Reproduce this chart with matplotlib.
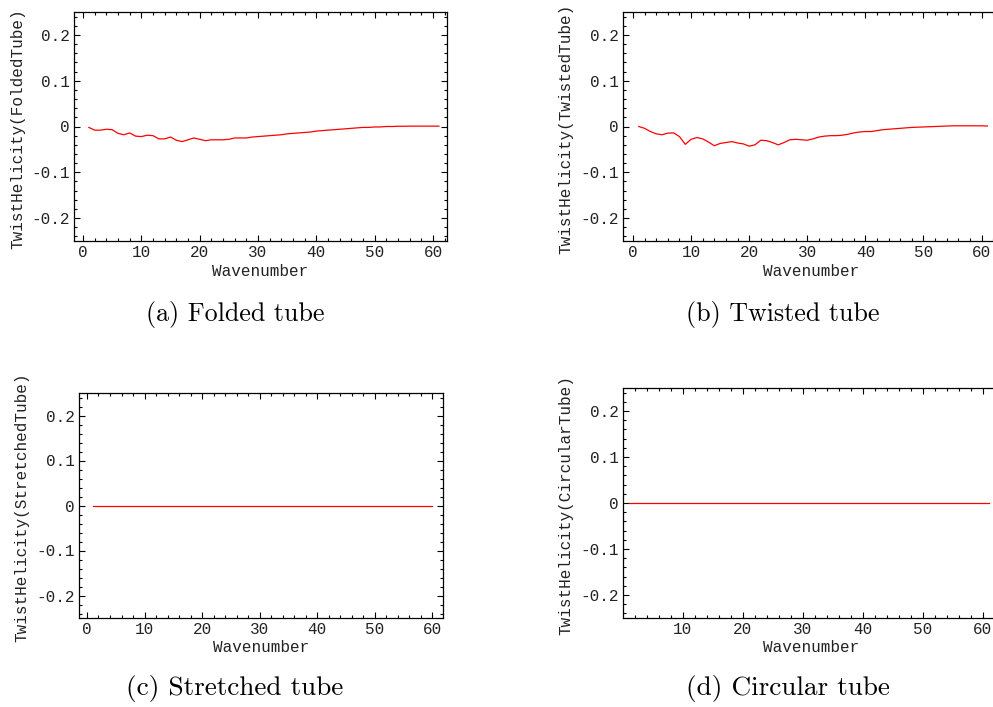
import numpy as np
import matplotlib
matplotlib.use("Agg")
import matplotlib.pyplot as plt
from matplotlib.ticker import MultipleLocator, FixedLocator

wavenumber = list(range(1, 62))
wavenumber_stretched = list(range(1, 61))

folded = [-0.002, -0.008, -0.008, -0.006, -0.007, -0.015, -0.018, -0.014, -0.021, -0.022,
          -0.019, -0.020, -0.027, -0.027, -0.023, -0.030, -0.033, -0.029, -0.025, -0.028,
          -0.031, -0.029, -0.029, -0.029, -0.028, -0.025, -0.025, -0.025, -0.023, -0.022,
          -0.021, -0.020, -0.019, -0.018, -0.016, -0.015, -0.014, -0.013, -0.012, -0.010,
          -0.009, -0.008, -0.007, -0.006, -0.005, -0.004, -0.003, -0.002, -0.002, -0.001,
          -0.001, 0.000, 0.000, 0.0005, 0.0005, 0.0008, 0.0008, 0.0008, 0.0008, 0.0008, 0.0008]

twisted = [0.000, -0.004, -0.011, -0.016, -0.018, -0.0145, -0.014, -0.022, -0.039, -0.028,
           -0.024, -0.027, -0.034, -0.042, -0.037, -0.035, -0.033, -0.036, -0.038, -0.043,
           -0.040, -0.030, -0.031, -0.035, -0.040, -0.035, -0.029, -0.028, -0.029, -0.030,
           -0.027, -0.023, -0.021, -0.020, -0.020, -0.019, -0.017, -0.014, -0.012, -0.011,
           -0.011, -0.009, -0.007, -0.006, -0.005, -0.004, -0.003, -0.002, -0.0015, -0.001,
           -0.0005, 0.000, 0.0005, 0.001, 0.0015, 0.0015, 0.0015, 0.0015, 0.0015, 0.0015, 0.001]

stretched = [0.0] * 60
circular = [0.0] * 61

xs = [wavenumber, wavenumber, wavenumber_stretched, wavenumber]
series = [folded, twisted, stretched, circular]
ylabels = ["TwistHelicity(FoldedTube)", "TwistHelicity(TwistedTube)",
           "TwistHelicity(StretchedTube)", "TwistHelicity(CircularTube)"]
captions = ["(a) Folded tube", "(b) Twisted tube", "(c) Stretched tube", "(d) Circular tube"]
yticks = [-0.2, -0.1, 0.0, 0.1, 0.2]
yticklabels = ["-0.2", "-0.1", "0", "0.1", "0.2"]

W, H = 993, 707
fig = plt.figure(figsize=(W / 100, H / 100), dpi=100)

# (left, right, top, bottom) in pixels, xlim
boxes = [
    (74, 447, 12, 241, (-1.55, 62.4)),
    (623, 999, 12, 241, (-1.72, 63.0)),
    (79, 443, 393, 618, (-1.39, 61.9)),
    (623, 999, 388, 618, (0.05, 62.7)),
]
ylabel_x = [18, 566, 22, 566]
caption_pos = [(235, 315), (783, 315), (235, 688), (788, 688)]
caption_size = [18.7, 18.7, 19.6, 19.6]

mono = "Liberation Mono"
for i, (l, r, t, b, xl) in enumerate(boxes):
    ax = fig.add_axes([l / W, 1 - b / H, (r - l) / W, (b - t) / H])
    ax.plot(xs[i], series[i], color="#ff0000", lw=0.9)
    ax.set_xlim(*xl)
    ax.set_ylim(-0.25, 0.25)
    ax.set_yticks(yticks)
    ax.set_yticklabels(yticklabels)
    if i == 3:
        ax.xaxis.set_major_locator(FixedLocator([10, 20, 30, 40, 50, 60]))
    else:
        ax.xaxis.set_major_locator(MultipleLocator(10))
    ax.xaxis.set_minor_locator(MultipleLocator(2))
    ax.yaxis.set_minor_locator(MultipleLocator(0.02))
    ax.tick_params(which="both", direction="in", top=True, right=True, width=0.8,
                   colors="black", labelcolor="#222222", labelsize=11.5, pad=3)
    ax.tick_params(which="major", length=4)
    ax.tick_params(which="minor", length=2)
    for lab in ax.get_xticklabels() + ax.get_yticklabels():
        lab.set_fontfamily(mono)
    for s in ax.spines.values():
        s.set_linewidth(0.9)
    ax.set_xlabel("Wavenumber", fontfamily=mono, fontsize=11.5, color="#222222")
    ax.xaxis.label.set_va("center")
    ax.xaxis.set_label_coords(0.5, -31 / (b - t) if i < 2 else -29 / (b - t))
    ax.set_ylabel(ylabels[i], fontfamily=mono, fontsize=11.5, color="#222222")
    ax.yaxis.label.set_va("center")
    ax.yaxis.set_label_coords((ylabel_x[i] - l) / (r - l), 0.49)
    cx, cy = caption_pos[i]
    fig.text(cx / W, 1 - cy / H, captions[i], fontfamily="cmr10", fontsize=caption_size[i],
             ha="center", va="center", color="black")

fig.savefig("out.png", dpi=100)
